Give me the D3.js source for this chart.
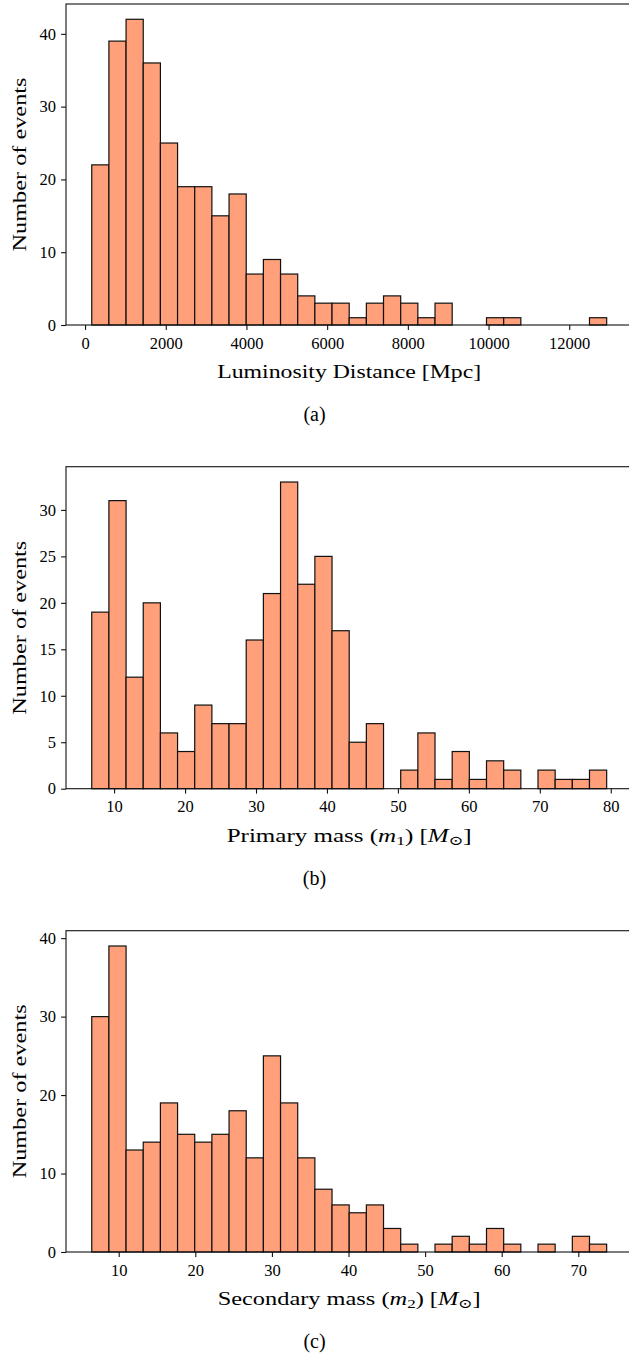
<!DOCTYPE html>
<html>
<head>
<meta charset="utf-8">
<script src="https://cdn.jsdelivr.net/npm/d3@7"></script>
<style>
  html, body { margin: 0; padding: 0; background: #fff; }
  svg { display: block; }
  svg text { font-family: "Liberation Serif", "DejaVu Serif", serif !important; fill: #000; }
</style>
</head>
<body>
<svg id="chart" width="629" height="1355"></svg>
<script>
// ---- Data ----
// Panel (a): luminosity distance histogram, 30 bins
const distRange = [166, 12927];
const distCounts = [22, 39, 42, 36, 25, 19, 19, 15, 18, 7, 9, 7, 4, 3, 3, 1, 3, 4, 3, 1, 3, 0, 0, 1, 1, 0, 0, 0, 0, 1];
const distXTicks = [0, 2000, 4000, 6000, 8000, 10000, 12000];
const distYTicks = [0, 10, 20, 30, 40];

// Panel (b): primary mass histogram, 30 bins
const m1Range = [6.85, 79.42];
const m1Counts = [19, 31, 12, 20, 6, 4, 9, 7, 7, 16, 21, 33, 22, 25, 17, 5, 7, 0, 2, 6, 1, 4, 1, 3, 2, 0, 2, 1, 1, 2];
const m1XTicks = [10, 20, 30, 40, 50, 60, 70, 80];
const m1YTicks = [0, 5, 10, 15, 20, 25, 30];

// Panel (c): secondary mass histogram, 30 bins
const m2Range = [6.48, 73.70];
const m2Counts = [30, 39, 13, 14, 19, 15, 14, 15, 18, 12, 25, 19, 12, 8, 6, 5, 6, 3, 1, 0, 1, 2, 1, 3, 1, 0, 1, 0, 2, 1];
const m2XTicks = [10, 20, 30, 40, 50, 60, 70];
const m2YTicks = [0, 10, 20, 30, 40];

const yLabel = "Number of events";
const captions = ["(a)", "(b)", "(c)"];

// ---- Layout ----
const svg = d3.select("#chart");
const axLeft = 66, axRight = 632.4;
const panels = [
  { range: distRange, counts: distCounts, xt: distXTicks, yt: distYTicks, top: 4, bottom: 325,
    xlabel: [{t: "Luminosity Distance [Mpc]"}], xlen: 264, cap: captions[0] },
  { range: m1Range, counts: m1Counts, xt: m1XTicks, yt: m1YTicks, top: 466.7, bottom: 788.7,
    xlabel: [{t: "Primary mass ("}, {t: "m", i: true}, {t: "1", sub: true}, {t: ") ["}, {t: "M", i: true}, {t: "\u2299", sub: true}, {t: "]"}], xlen: 245, cap: captions[1] },
  { range: m2Range, counts: m2Counts, xt: m2XTicks, yt: m2YTicks, top: 930.7, bottom: 1252,
    xlabel: [{t: "Secondary mass ("}, {t: "m", i: true}, {t: "2", sub: true}, {t: ") ["}, {t: "M", i: true}, {t: "\u2299", sub: true}, {t: "]"}], xlen: 263, cap: captions[2] }
];

const tickFont = 16.5, labelFont = 19, capFont = 20;

panels.forEach(p => {
  const n = p.counts.length;
  const [lo, hi] = p.range;
  const span = hi - lo;
  const bw = span / n;
  const bins = p.counts.map((c, i) => ({ x0: lo + i * bw, x1: lo + (i + 1) * bw, c }));
  const x = d3.scaleLinear().domain([lo - 0.05 * span, hi + 0.05 * span]).range([axLeft, axRight]);
  const ymax = d3.max(p.counts) * 1.05;
  const y = d3.scaleLinear().domain([0, ymax]).range([p.bottom, p.top]);

  const g = svg.append("g");

  // bars
  g.selectAll("rect.bar").data(bins.filter(b => b.c > 0)).join("rect")
    .attr("class", "bar")
    .attr("x", d => x(d.x0))
    .attr("y", d => y(d.c))
    .attr("width", d => x(d.x1) - x(d.x0))
    .attr("height", d => y(0) - y(d.c))
    .attr("fill", "#FFA07A")
    .attr("stroke", "#111")
    .attr("stroke-width", 1.2);

  // axes
  const xAxis = d3.axisBottom(x).tickValues(p.xt).tickSize(4.9).tickPadding(7).tickFormat(d3.format("d"));
  const yAxis = d3.axisLeft(y).tickValues(p.yt).tickSize(4.9).tickPadding(5).tickFormat(d3.format("d"));

  const gx = g.append("g").attr("transform", `translate(0,${p.bottom})`).call(xAxis);
  const gy = g.append("g").attr("transform", `translate(${axLeft},0)`).call(yAxis);
  [gx, gy].forEach(a => {
    a.attr("font-family", null);
    a.select(".domain").remove();
    a.selectAll(".tick line").attr("stroke", "#111").attr("stroke-width", 1.1);
    a.selectAll(".tick text").attr("font-size", tickFont).attr("fill", "#111");
  });
  gx.selectAll(".tick text").attr("dy", "0.72em");

  // frame (spines)
  g.append("rect")
    .attr("x", axLeft).attr("y", p.top)
    .attr("width", axRight - axLeft).attr("height", p.bottom - p.top)
    .attr("fill", "none").attr("stroke", "#111").attr("stroke-width", 1.1);

  // y label
  g.append("text")
    .attr("transform", `translate(26,${(p.top + p.bottom) / 2}) rotate(-90)`)
    .attr("text-anchor", "middle")
    .attr("font-size", labelFont)
    .attr("textLength", 174)
    .attr("lengthAdjust", "spacingAndGlyphs")
    .text(yLabel);

  // x label
  const xl = g.append("text")
    .attr("x", (axLeft + axRight) / 2)
    .attr("y", p.bottom + 53)
    .attr("text-anchor", "middle")
    .attr("font-size", labelFont)
    .attr("textLength", p.xlen)
    .attr("lengthAdjust", "spacingAndGlyphs");
  p.xlabel.forEach(s => {
    const ts = xl.append("tspan").text(s.t);
    if (s.i) ts.attr("font-style", "italic");
    if (s.sub) ts.attr("font-size", labelFont * 0.7).attr("baseline-shift", "-22%");
  });

  // caption
  g.append("text")
    .attr("x", 314.5)
    .attr("y", p.bottom + 96)
    .attr("text-anchor", "middle")
    .attr("font-size", capFont)
    .text(p.cap);
});
</script>
</body>
</html>
